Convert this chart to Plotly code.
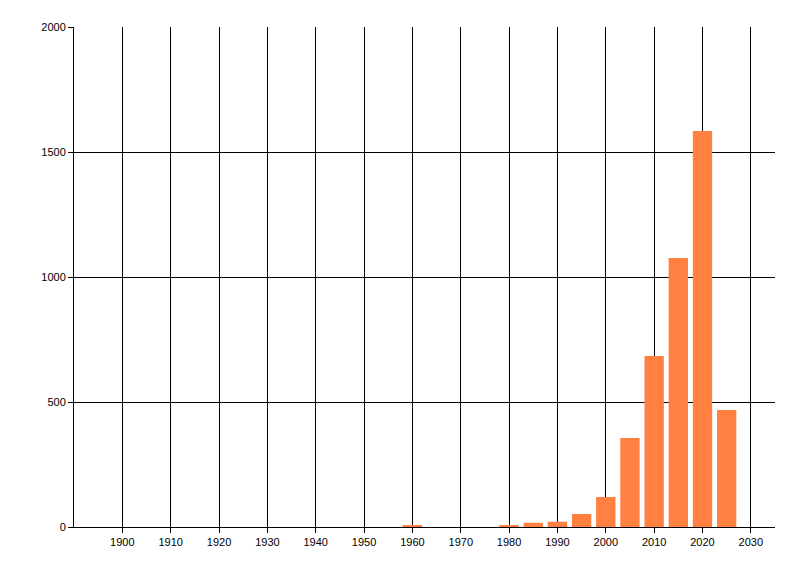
import plotly.graph_objects as go

years = [1960, 1980, 1985, 1990, 1995, 2000, 2005, 2010, 2015, 2020, 2025]
counts = [8, 5, 17, 21, 52, 120, 356, 684, 1076, 1584, 468]
x_ticks = list(range(1900, 2031, 10))
y_ticks = [0, 500, 1000, 1500, 2000]

fig = go.Figure(go.Bar(x=years, y=counts, width=4, marker_color="#FF8040", marker_line_width=0))

axis_style = dict(
    showgrid=True, gridcolor="black", gridwidth=1,
    showline=True, linecolor="black", linewidth=1,
    ticks="outside", ticklen=5, tickcolor="black",
    zeroline=False, tickfont=dict(family="Liberation Sans", size=11, color="black"),
)
fig.update_xaxes(range=[1890, 2035], tickvals=x_ticks, **axis_style)
fig.update_yaxes(range=[0, 2000], tickvals=y_ticks, **axis_style)

# page adds ~8px body margin, so margins are trimmed to keep the plot box in place
fig.update_layout(
    width=800, height=576,
    margin=dict(l=66, r=33, t=19, b=57),
    plot_bgcolor="white", paper_bgcolor="white",
    showlegend=False,
)

fig.write_html("out.html")
